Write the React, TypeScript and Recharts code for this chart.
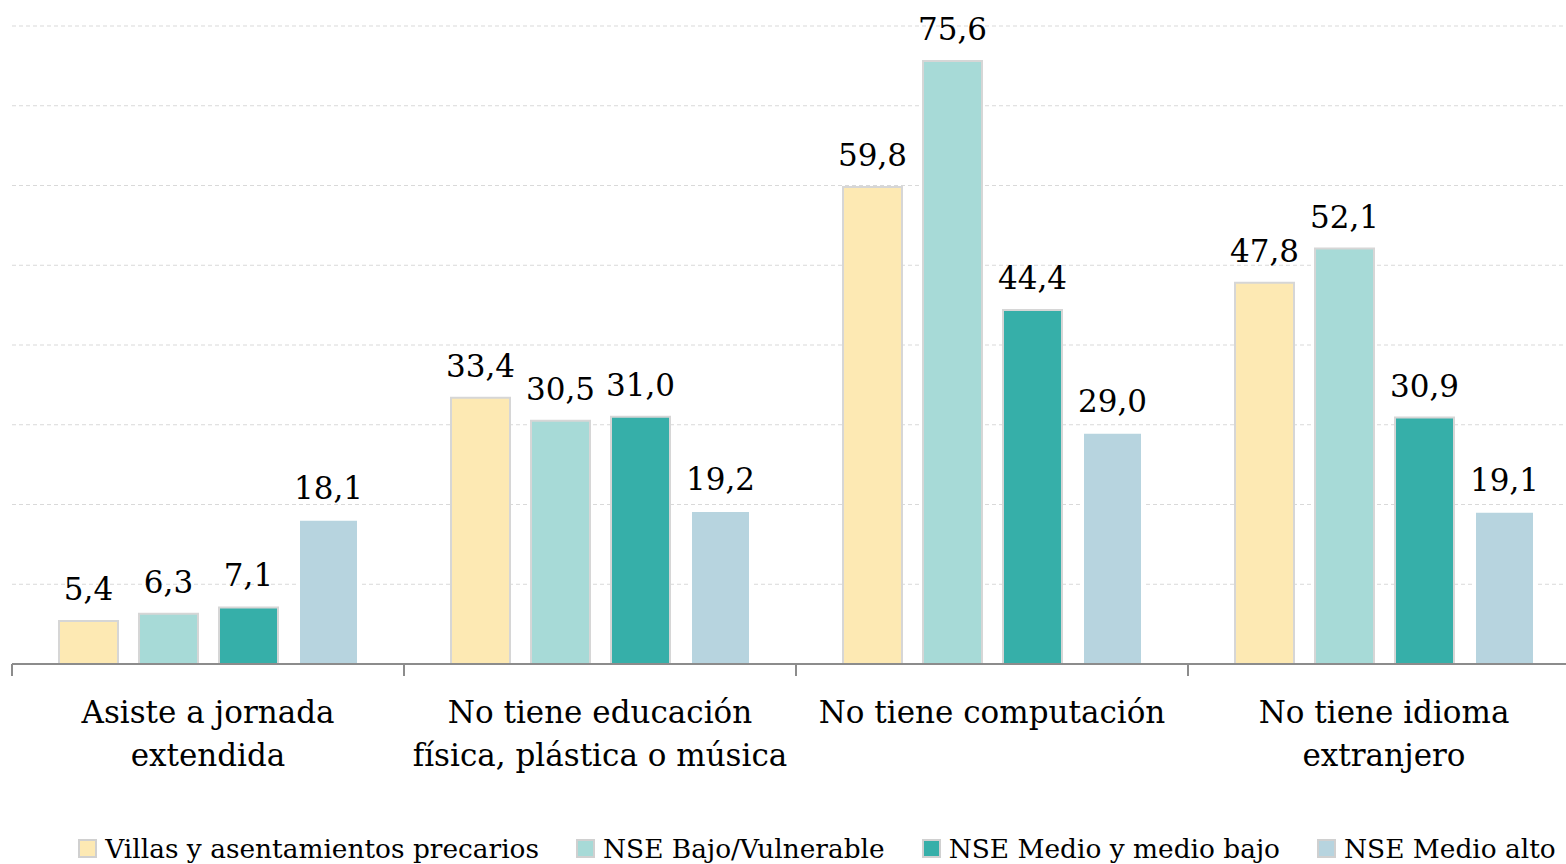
import React from "react";
import { BarChart, Bar, XAxis, YAxis, CartesianGrid, Legend, LabelList } from "recharts";

const categories = [
  "Asiste a jornada\nextendida",
  "No tiene educación\nfísica, plástica o música",
  "No tiene computación",
  "No tiene idioma\nextranjero",
];
const villas = [5.4, 33.4, 59.8, 47.8];
const nseBajo = [6.3, 30.5, 75.6, 52.1];
const nseMedio = [7.1, 31.0, 44.4, 30.9];
const nseAlto = [18.1, 19.2, 29.0, 19.1];
const seriesNames = [
  "Villas y asentamientos precarios",
  "NSE Bajo/Vulnerable",
  "NSE Medio y medio bajo",
  "NSE Medio alto",
];
const yTicks = [0, 10, 20, 30, 40, 50, 60, 70, 80];

const colors = ["#FDE9B3", "#A7DAD7", "#36AFA9", "#B7D4DF"];
const strokes = ["#d6d6d6", "#d6d6d6", "#d6d6d6", "#ffffff"];
const FONT = "'DejaVu Serif', serif";

const data = categories.map((c, i) => ({
  name: c,
  s0: villas[i],
  s1: nseBajo[i],
  s2: nseMedio[i],
  s3: nseAlto[i],
}));

const fmt = (v: any) => Number(v).toFixed(1).replace(".", ",");

const CatTick = (props: any) => {
  const { x, y, payload, index } = props;
  const half = payload && payload.offset ? payload.offset : 195.8;
  const lines = String(payload.value).split("\n");
  return (
    <g>
      <line x1={x - half} y1={y - 8} x2={x - half} y2={y + 4} stroke="#8c8c8c" strokeWidth={2} />
      {index === categories.length - 1 && (
        <line x1={x + half - 1} y1={y - 8} x2={x + half - 1} y2={y + 4} stroke="#8c8c8c" strokeWidth={2} />
      )}
      <text x={x} y={y + 51} textAnchor="middle" fontSize={31} fontFamily={FONT} fill="#000">
        {lines.map((l, i) => (
          <tspan key={i} x={x} dy={i === 0 ? 0 : 43}>
            {l}
          </tspan>
        ))}
      </text>
    </g>
  );
};

const LegendContent = () => (
  <div
    style={{
      display: "flex",
      justifyContent: "center",
      alignItems: "center",
      height: 60,
      paddingLeft: 42,
      paddingTop: 28,
      boxSizing: "border-box",
      fontFamily: FONT,
      fontSize: 26.4,
      color: "#000",
      whiteSpace: "nowrap",
    }}
  >
    {seriesNames.map((n, i) => (
      <div key={n} style={{ display: "flex", alignItems: "center", marginRight: i < 3 ? 37 : 0 }}>
        <span
          style={{
            display: "inline-block",
            width: 15,
            height: 15,
            background: colors[i],
            border: "2px solid #d0d0d0",
            marginRight: 8,
          }}
        />
        <span>{n}</span>
      </div>
    ))}
  </div>
);

export default function App() {
  return (
    <div
      style={{
        position: "absolute",
        left: 0,
        top: 0,
        width: 1566,
        height: 864,
        background: "#fff",
        overflow: "hidden",
      }}
    >
      <BarChart
        width={1580}
        height={864}
        data={data}
        margin={{ top: 26, right: 0, left: 12, bottom: 0 }}
        barSize={59}
        barGap={21}
      >
        <CartesianGrid vertical={false} stroke="#d9d9d9" strokeDasharray="4 3" />
        <YAxis hide domain={[0, 80]} ticks={yTicks} />
        <XAxis
          dataKey="name"
          height={140}
          axisLine={{ stroke: "#8c8c8c", strokeWidth: 2 }}
          tickLine={false}
          tick={<CatTick />}
          interval={0}
        />
        <Legend verticalAlign="bottom" height={60} content={<LegendContent />} />
        {["s0", "s1", "s2", "s3"].map((k, i) => (
          <Bar
            key={k}
            dataKey={k}
            name={seriesNames[i]}
            fill={colors[i]}
            stroke={strokes[i]}
            strokeWidth={2}
            isAnimationActive={false}
          >
            <LabelList
              dataKey={k}
              position="top"
              offset={21}
              formatter={fmt}
              style={{ fontFamily: FONT, fontSize: 31, fill: "#000" }}
            />
          </Bar>
        ))}
      </BarChart>
    </div>
  );
}
